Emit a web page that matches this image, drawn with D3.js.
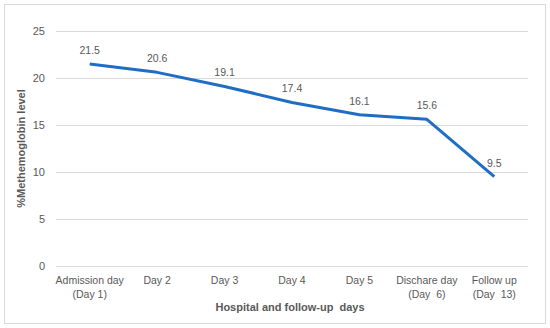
<!DOCTYPE html>
<html>
<head>
<meta charset="utf-8">
<script src="https://cdn.jsdelivr.net/npm/d3@7"></script>
<style>
  body { margin: 0; background: #fff; }
  text { font-family: "Liberation Sans", Arial, sans-serif; fill: #595959; white-space: pre; }
</style>
</head>
<body>
<div id="chart"></div>
<script>
// chart data
const days = [
  ["Admission day", "(Day 1)"],
  ["Day 2"],
  ["Day 3"],
  ["Day 4"],
  ["Day 5"],
  ["Dischare day", "(Day  6)"],
  ["Follow up", "(Day  13)"]
];
const metHb = [21.5, 20.6, 19.1, 17.4, 16.1, 15.6, 9.5];
const yTicks = [0, 5, 10, 15, 20, 25];

const width = 550, height = 328;
const margin = { left: 56, right: 22, top: 31, bottom: 62 };

const svg = d3.select("#chart").append("svg")
  .attr("width", width)
  .attr("height", height);

// outer frame
svg.append("rect")
  .attr("x", 4.5).attr("y", 4.5)
  .attr("width", width - 9).attr("height", height - 9)
  .attr("fill", "#fff")
  .attr("stroke", "#d9d9d9");

const x = d3.scaleBand()
  .domain(d3.range(days.length))
  .range([margin.left, width - margin.right]);

const y = d3.scaleLinear()
  .domain([0, 25])
  .range([height - margin.bottom, margin.top]);

// gridlines
svg.append("g")
  .selectAll("line")
  .data(yTicks)
  .join("line")
  .attr("x1", margin.left).attr("x2", width - margin.right)
  .attr("y1", d => Math.round(y(d)) + 0.5)
  .attr("y2", d => Math.round(y(d)) + 0.5)
  .attr("stroke", "#d9d9d9")
  .attr("stroke-width", 1);

// y axis labels
const yAxis = svg.append("g")
  .attr("transform", `translate(${margin.left},0)`)
  .call(d3.axisLeft(y).tickValues(yTicks).tickSize(0).tickPadding(11));
yAxis.select(".domain").remove();
yAxis.selectAll("text")
  .attr("font-size", 11)
  .attr("font-family", null)
  .attr("fill", null);

// x axis labels (two lines)
const xl = svg.append("g")
  .selectAll("text")
  .data(days)
  .join("text")
  .attr("text-anchor", "middle")
  .attr("font-size", 10.5)
  .attr("x", (d, i) => x(i) + x.bandwidth() / 2)
  .attr("y", height - margin.bottom + 18);
xl.selectAll("tspan")
  .data(d => d)
  .join("tspan")
  .attr("x", function () { return this.parentNode.getAttribute("x"); })
  .attr("dy", (d, i) => i === 0 ? 0 : 14)
  .text(d => d);

// line
const line = d3.line()
  .x((d, i) => x(i) + x.bandwidth() / 2)
  .y(d => y(d));

svg.append("path")
  .datum(metHb)
  .attr("fill", "none")
  .attr("stroke", "#1f6dc5")
  .attr("stroke-width", 3)
  .attr("stroke-linejoin", "round")
  .attr("d", line);

// data labels
svg.append("g")
  .selectAll("text")
  .data(metHb)
  .join("text")
  .attr("text-anchor", "middle")
  .attr("font-size", 10.5)
  .attr("x", (d, i) => x(i) + x.bandwidth() / 2)
  .attr("y", d => y(d) - 10)
  .text(d => d.toFixed(1));

// axis titles
svg.append("text")
  .attr("text-anchor", "middle")
  .attr("font-size", 11)
  .attr("font-weight", "bold")
  .attr("x", (margin.left + width - margin.right) / 2 - 2)
  .attr("y", 311)
  .text("Hospital and follow-up  days");

svg.append("text")
  .attr("text-anchor", "middle")
  .attr("font-size", 11)
  .attr("font-weight", "bold")
  .attr("transform", `translate(25,${y(12.5)}) rotate(-90)`)
  .text("%Methemoglobin level");
</script>
</body>
</html>
